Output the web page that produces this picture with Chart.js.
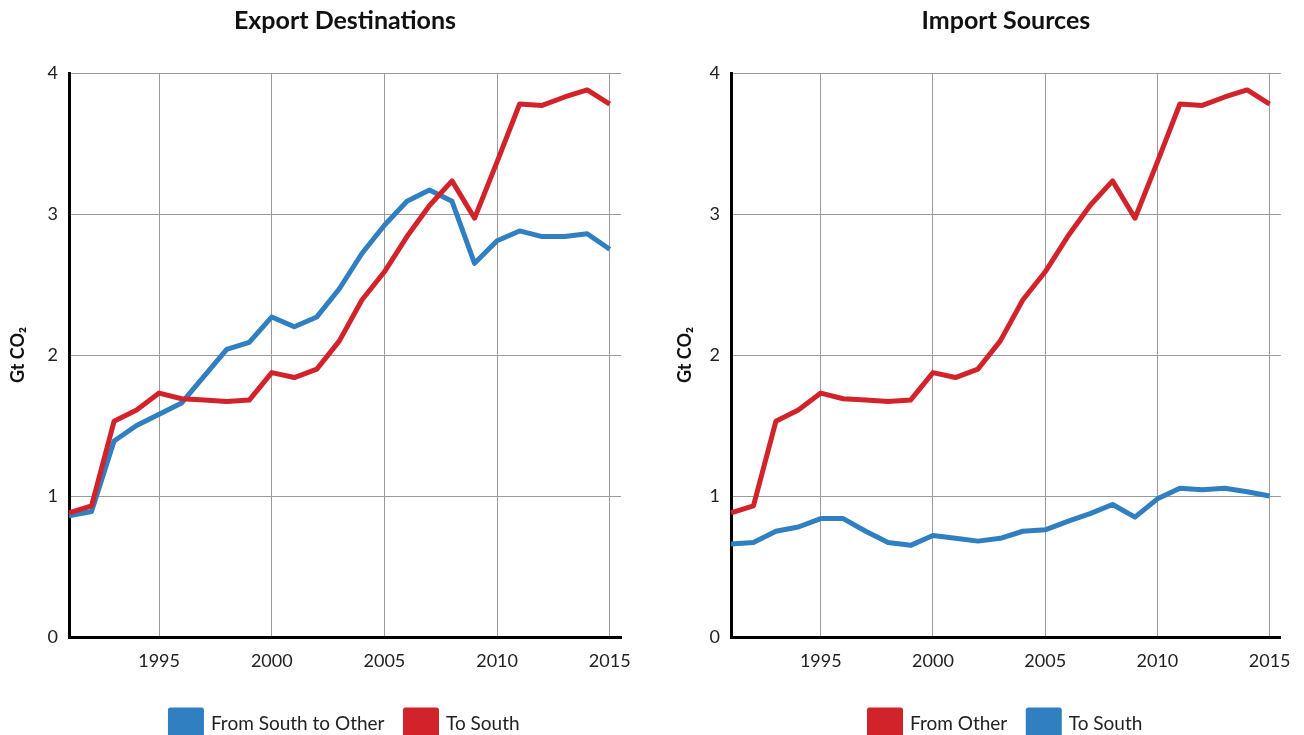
<!DOCTYPE html>
<html><head><meta charset="utf-8">
<script src="https://cdn.jsdelivr.net/npm/chart.js@4/dist/chart.umd.min.js"></script>
<style>
body{margin:0;background:#fff;}
.wrap{display:flex;width:1304px;height:735px;overflow:hidden;}
.box{width:652px;height:735px;}
canvas{display:block;}
</style>
</head><body>
<div class="wrap"><div class="box"><canvas id="c1" width="652" height="735"></canvas></div><div class="box"><canvas id="c2" width="652" height="735"></canvas></div></div>
<script>
const years = [1991,1992,1993,1994,1995,1996,1997,1998,1999,2000,2001,2002,2003,2004,2005,2006,2007,2008,2009,2010,2011,2012,2013,2014,2015];
const exportFromSouthToOther = [0.86,0.89,1.39,1.50,1.58,1.66,1.85,2.04,2.09,2.27,2.20,2.27,2.47,2.72,2.92,3.09,3.17,3.09,2.65,2.81,2.88,2.84,2.84,2.86,2.75];
const exportToSouth = [0.88,0.93,1.53,1.61,1.73,1.69,1.68,1.67,1.68,1.875,1.84,1.90,2.10,2.39,2.59,2.84,3.06,3.235,2.97,3.37,3.78,3.77,3.83,3.88,3.78];
const importFromOther = [0.88,0.93,1.53,1.61,1.73,1.69,1.68,1.67,1.68,1.875,1.84,1.90,2.10,2.39,2.59,2.84,3.06,3.235,2.97,3.37,3.78,3.77,3.83,3.88,3.78];
const importToSouth = [0.66,0.67,0.75,0.78,0.84,0.84,0.75,0.67,0.65,0.72,0.70,0.68,0.70,0.75,0.76,0.82,0.875,0.94,0.85,0.98,1.055,1.045,1.055,1.03,1.00];
const xTickYears = [1995,2000,2005,2010,2015];
const yTickValues = [0,1,2,3,4];

const BLUE = '#2f7fc1';
const RED = '#d2232a';
const FONT = 'Lato, "Noto Sans", sans-serif';

function series(label, values, color, order){
  return {label, data: years.map((y,i)=>({x:y,y:values[i]})), borderColor: color, backgroundColor: color,
    borderWidth: 5, pointRadius: 0, tension: 0, borderJoinStyle: 'round', order, clip: false};
}

function makeChart(id, title, datasets, padLeft, padRight, yWidth){
  return new Chart(document.getElementById(id), {
    type: 'line',
    data: { datasets },
    options: {
      responsive: false, animation: false, devicePixelRatio: 1,
      layout: { padding: { left: padLeft, right: padRight, top: 4, bottom: -13 } },
      plugins: {
        title: { display: true, fullSize: false, text: title, color: '#111', font: { family: FONT, size: 25, weight: 'bold' }, padding: { top: 2, bottom: 37 } },
        legend: { position: 'bottom', fullSize: false, labels: { boxWidth: 31, boxHeight: 28, padding: 21, color: '#222',
          font: { family: FONT, size: 19 }, sort: (a,b)=>a.datasetIndex-b.datasetIndex } },
        tooltip: { enabled: false }
      },
      scales: {
        x: { type: 'linear', min: 1991, max: 2015.5,
          afterBuildTicks: s => { s.ticks = xTickYears.map(v=>({value:v})); },
          afterFit: s => { s.height = 52; },
          grid: { color: '#9a9a9a', lineWidth: 1, drawTicks: false },
          border: { color: '#000', width: 3 },
          ticks: { color: '#222', font: { family: FONT, size: 18 }, padding: 13, maxRotation: 0, callback: v => String(v) } },
        y: { min: 0, max: 4,
          afterBuildTicks: s => { s.ticks = yTickValues.map(v=>({value:v})); },
          afterFit: s => { s.width = yWidth; },
          grid: { color: '#9a9a9a', lineWidth: 1, drawTicks: false },
          border: { color: '#000', width: 3 },
          title: { display: true, text: 'Gt CO₂', color: '#111', font: { family: FONT, size: 18, weight: 'bold' }, padding: { top: 0, bottom: 0 } },
          ticks: { color: '#222', font: { family: FONT, size: 18 }, padding: 11 } }
      }
    }
  });
}

makeChart('c1', 'Export Destinations', [
  series('From South to Other', exportFromSouthToOther, BLUE, 1),
  series('To South', exportToSouth, RED, 0)
], 7, 31, 62);
makeChart('c2', 'Import Sources', [
  series('From Other', importFromOther, RED, 0),
  series('To South', importToSouth, BLUE, 1)
], 22, 20, 57);
</script>
</body></html>
